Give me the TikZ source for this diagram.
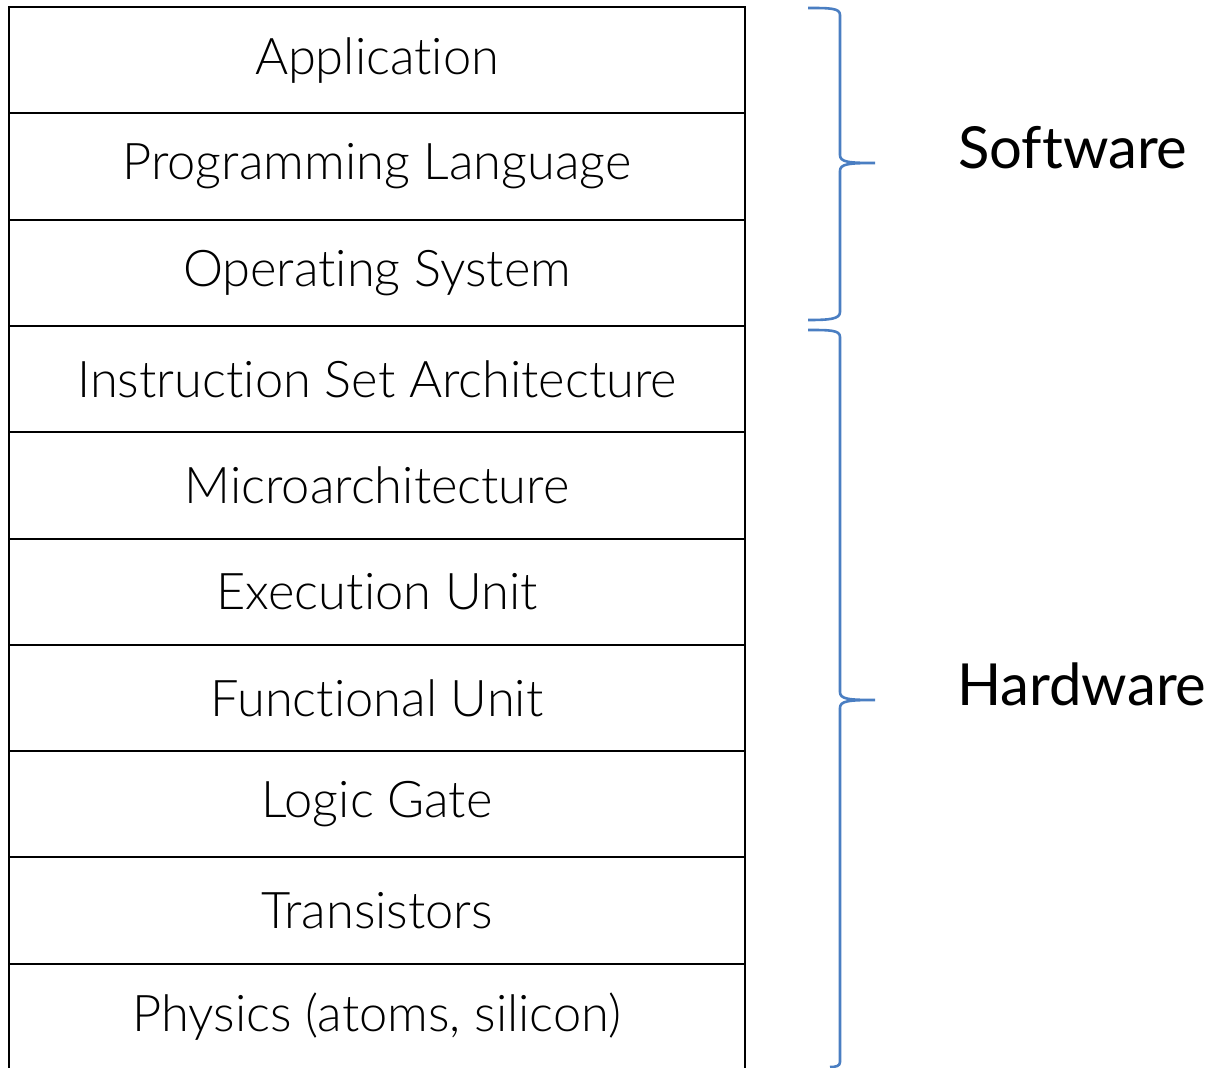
\documentclass[tikz,border=0pt]{standalone}
\usepackage{fontspec}
\setmainfont{Lato}[Ligatures={NoCommon,NoRare,NoContextual}]
\newfontfamily\layerfont{Lato Light}[Ligatures={NoCommon,NoRare,NoContextual}]
\definecolor{bracecol}{HTML}{4A7EC2}
\begin{document}
\begin{tikzpicture}[x=1pt,y=-1pt,
  layer/.style={draw=black,line width=2pt,minimum width=736pt,minimum height=106.3pt,
    inner sep=0pt,font=\layerfont\fontsize{50.6}{56}\selectfont},
  bracepath/.style={draw=bracecol,line width=2.6pt,line join=round},
  grouplabel/.style={font=\fontsize{58}{64}\selectfont,anchor=base west,inner sep=0pt}]
\useasboundingbox (0,0) rectangle (1211,1068);
\clip (0,0) rectangle (1211,1068);
% stack of abstraction layers
\foreach \txt [count=\i] in {Application,Programming Language,Operating System,
  Instruction Set Architecture,Microarchitecture,Execution Unit,Functional Unit,
  Logic Gate,Transistors,{Physics (atoms, silicon)}}{
  \node[layer] (L\i) at (377,{7+106.3*(\i-0.5)}) {\txt};
}
% software brace
\coordinate (s1) at (808,8);
\coordinate (s2) at (875,163);
\coordinate (s3) at (808,320);
\path[bracepath] (s1) .. controls (830,8) and (840,8) .. (840,15)
  -- (840,155) .. controls (840,162) and (848,163) .. (s2)
  (s2) .. controls (848,163) and (840,164) .. (840,171)
  -- (840,312) .. controls (840,319) and (830,320) .. (s3);
\node[grouplabel] (sw) at (958,168) {Software};
% hardware brace
\coordinate (h1) at (808,330);
\coordinate (h2) at (875,700);
\coordinate (h3) at (830,1067);
\path[bracepath] (h1) .. controls (830,330) and (840,330) .. (840,337)
  -- (840,692) .. controls (840,699) and (848,700) .. (h2)
  (h2) .. controls (848,700) and (840,701) .. (840,708)
  -- (840,1062) .. controls (840,1066) and (836,1067) .. (h3);
\node[grouplabel] (hw) at (957,705) {Hardware};
\end{tikzpicture}
\end{document}
